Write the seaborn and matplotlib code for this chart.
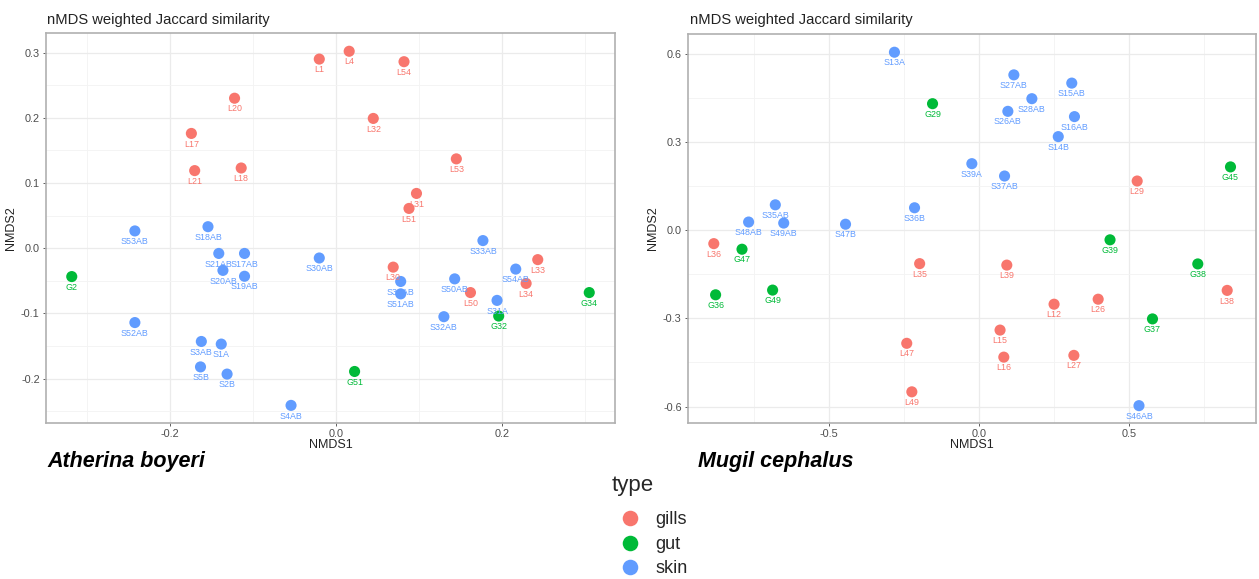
import matplotlib
matplotlib.use("Agg")
import matplotlib.pyplot as plt
from matplotlib.ticker import FixedLocator
import seaborn as sns
import pandas as pd

# ---------------- data: Atherina boyeri ----------------
a_sample = ["L1", "L4", "L54", "L20", "L32", "L17", "L53", "L21", "L18", "L31", "L51",
            "L30", "L50", "L33", "L34",
            "G2", "G32", "G34", "G51",
            "S53AB", "S18AB", "S21AB", "S17AB", "S20AB", "S19AB", "S30AB", "S34AB",
            "S51AB", "S33AB", "S50AB", "S54AB", "S31A", "S32AB", "S52AB", "S3AB",
            "S1A", "S5B", "S2B", "S4AB"]
a_nmds1 = [-0.020, 0.016, 0.082, -0.122, 0.045, -0.174, 0.145, -0.170, -0.114, 0.097, 0.088,
           0.069, 0.162, 0.243, 0.229,
           -0.318, 0.196, 0.305, 0.0225,
           -0.242, -0.154, -0.141, -0.110, -0.136, -0.110, -0.020, 0.078,
           0.078, 0.177, 0.143, 0.2165, 0.194, 0.130, -0.242, -0.162,
           -0.138, -0.163, -0.131, -0.054]
a_nmds2 = [0.290, 0.302, 0.286, 0.230, 0.199, 0.176, 0.137, 0.119, 0.123, 0.084, 0.061,
           -0.029, -0.068, -0.0175, -0.054,
           -0.0435, -0.104, -0.068, -0.189,
           0.0265, 0.033, -0.008, -0.008, -0.034, -0.043, -0.015, -0.051,
           -0.070, 0.0117, -0.047, -0.032, -0.080, -0.105, -0.114, -0.143,
           -0.147, -0.182, -0.193, -0.241]

# ---------------- data: Mugil cephalus ----------------
m_sample = ["L29", "L36", "L35", "L47", "L49", "L39", "L38", "L12", "L26", "L15", "L16", "L27",
            "G29", "G45", "G47", "G36", "G49", "G39", "G38", "G37",
            "S13A", "S35AB", "S36B", "S27AB", "S15AB", "S28AB", "S26AB", "S16AB", "S14B",
            "S39A", "S37AB", "S48AB", "S49AB", "S47B", "S46AB"]
m_nmds1 = [0.528, -0.883, -0.197, -0.240, -0.223, 0.0935, 0.828, 0.251, 0.398, 0.071, 0.0835, 0.317,
           -0.154, 0.839, -0.789, -0.877, -0.687, 0.4375, 0.730, 0.579,
           -0.281, -0.678, -0.214, 0.117, 0.310, 0.177, 0.097, 0.319, 0.265,
           -0.023, 0.086, -0.767, -0.650, -0.444, 0.534]
m_nmds2 = [0.167, -0.046, -0.114, -0.385, -0.550, -0.119, -0.205, -0.252, -0.235, -0.340, -0.432, -0.426,
           0.430, 0.215, -0.065, -0.220, -0.204, -0.033, -0.115, -0.302,
           0.605, 0.086, 0.076, 0.528, 0.500, 0.447, 0.404, 0.386, 0.318,
           0.226, 0.184, 0.0275, 0.024, 0.020, -0.597]

type_names = ["gills", "gut", "skin"]
type_colors = ["#F8766D", "#00BA38", "#619CFF"]
prefix_type = {"L": "gills", "G": "gut", "S": "skin"}

title_text = "nMDS weighted Jaccard similarity"
species = ["Atherina boyeri", "Mugil cephalus"]

def make_df(samples, x, y):
    return pd.DataFrame({"sample": samples, "NMDS1": x, "NMDS2": y,
                         "type": [prefix_type[s[0]] for s in samples]})

df_a = make_df(a_sample, a_nmds1, a_nmds2)
df_m = make_df(m_sample, m_nmds1, m_nmds2)

sns.set_theme(style="white")
plt.rcParams["font.family"] = ["Liberation Sans", "DejaVu Sans"]
palette = dict(zip(type_names, type_colors))

W, H = 1259, 579
fig = plt.figure(figsize=(W / 100, H / 100), dpi=100)
fig.patch.set_facecolor("white")

ax1 = fig.add_axes([46 / W, 1 - 423 / H, 569 / W, 390 / H])
ax2 = fig.add_axes([688 / W, 1 - 422.7 / H, 568 / W, 388.4 / H])

def style_axes(ax, df, xlim, ylim, xmaj, ymaj, xmin_, ymin_, show_legend):
    sns.scatterplot(data=df, x="NMDS1", y="NMDS2", hue="type", hue_order=type_names,
                    palette=palette, s=64, edgecolor="none", linewidth=0, ax=ax,
                    legend=show_legend, zorder=3)
    for _, r in df.iterrows():
        ax.annotate(r["sample"], (r["NMDS1"], r["NMDS2"]), xytext=(0, -4.4),
                    textcoords="offset points", ha="center", va="top",
                    fontsize=6.4, color=palette[r["type"]], zorder=4)
    ax.set_xlim(*xlim)
    ax.set_ylim(*ylim)
    ax.xaxis.set_major_locator(FixedLocator(xmaj))
    ax.yaxis.set_major_locator(FixedLocator(ymaj))
    ax.xaxis.set_minor_locator(FixedLocator(xmin_))
    ax.yaxis.set_minor_locator(FixedLocator(ymin_))
    ax.grid(True, which="major", color="#ebebeb", linewidth=0.9, zorder=0)
    ax.grid(True, which="minor", color="#f3f3f3", linewidth=0.6, zorder=0)
    ax.set_axisbelow(True)
    for sp in ax.spines.values():
        sp.set_visible(True)
        sp.set_color("#b0b0b0")
        sp.set_linewidth(1.2)
    ax.tick_params(axis="both", which="major", direction="out", length=2.5, width=0.6,
                   color="#444444", labelsize=7.8, labelcolor="#4d4d4d", pad=2,
                   bottom=True, left=True)
    ax.tick_params(axis="both", which="minor", length=0)
    ax.set_xlabel("NMDS1", fontsize=9, color="#222222", labelpad=0)
    ax.set_ylabel("NMDS2", fontsize=9, color="#222222", labelpad=3)

style_axes(ax1, df_a, (-0.349, 0.336), (-0.268, 0.330),
           [-0.2, 0.0, 0.2], [-0.2, -0.1, 0.0, 0.1, 0.2, 0.3],
           [-0.3, -0.1, 0.1, 0.3], [-0.25, -0.15, -0.05, 0.05, 0.15, 0.25],
           show_legend=True)
style_axes(ax2, df_m, (-0.969, 0.924), (-0.655, 0.666),
           [-0.5, 0.0, 0.5], [-0.6, -0.3, 0.0, 0.3, 0.6],
           [-0.75, -0.25, 0.25, 0.75], [-0.45, -0.15, 0.15, 0.45],
           show_legend=False)

ax1.set_xticklabels(["-0.2", "0.0", "0.2"])
ax1.set_yticklabels(["-0.2", "-0.1", "0.0", "0.1", "0.2", "0.3"])
ax2.set_xticklabels(["-0.5", "0.0", "0.5"])
ax2.set_yticklabels(["-0.6", "-0.3", "0.0", "0.3", "0.6"])

for xpx in (47, 690):
    fig.text(xpx / W, 1 - 20 / H, title_text, fontsize=10.6, color="#222222",
             ha="left", va="center")

fig.text(47 / W, 1 - 461 / H, species[0], fontsize=15.5, fontweight="bold",
         fontstyle="italic", ha="left", va="center", color="black")
fig.text(698 / W, 1 - 461 / H, species[1], fontsize=15.5, fontweight="bold",
         fontstyle="italic", ha="left", va="center", color="black")

sns.move_legend(ax1, "upper left", bbox_to_anchor=(612 / W, 1 - 475 / H),
                bbox_transform=fig.transFigure, title="type", frameon=False,
                fontsize=13, title_fontsize=16, markerscale=1.4,
                handletextpad=0.4, labelspacing=0.42, borderaxespad=0,
                borderpad=0, alignment="left")
leg = ax1.get_legend()
try:
    leg._legend_box.sep = 11
except Exception:
    pass

fig.savefig("out.png", dpi=100, facecolor="white")
